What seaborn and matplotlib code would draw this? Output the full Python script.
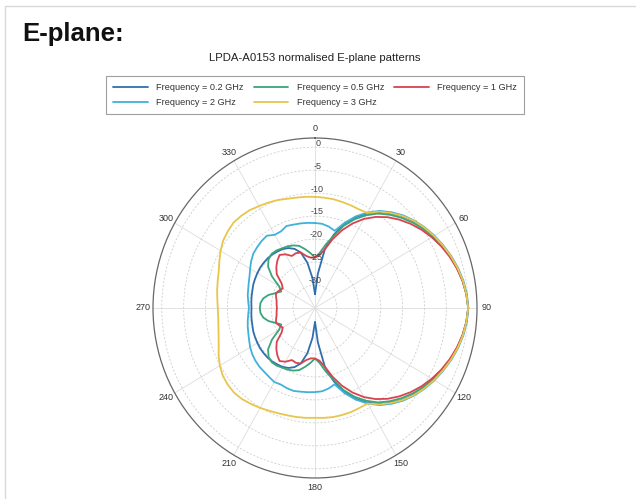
import numpy as np
import pandas as pd
import matplotlib
matplotlib.use("Agg")
import matplotlib.pyplot as plt
from matplotlib.lines import Line2D
import seaborn as sns

# ---- data (dB, normalised) at 5-degree steps, 0..360 ----
angles_deg = list(range(0, 361, 5))

f_02 = [-32, -27.5, -22, -18.5, -15.5, -13.2, -11.2, -9.5, -8.1, -6.8, -5.6, -4.6, -3.7, -2.8, -2.0, -1.3, -0.7, -0.3,
        0, -0.3, -0.7, -1.3, -2.0, -2.8, -3.7, -4.6, -5.6, -6.8, -8.1, -9.5, -11.2, -13.2, -15.5, -18.5, -22, -27.5,
        -32, -28.5, -25, -22.5, -21.3, -20.6, -20.2, -20.0, -19.8, -19.7, -19.7, -19.7, -19.8, -19.9, -20.0, -20.2, -20.3, -20.4,
        -20.5, -20.4, -20.3, -20.2, -20.0, -19.9, -19.8, -19.7, -19.7, -19.7, -19.8, -20.0, -20.2, -20.6, -21.3, -22.5, -25, -28.5,
        -32]

f_05 = [-24.0, -23.0, -21.0, -18.8, -16.0, -13.7, -11.7, -9.9, -8.5, -7.2, -6.0, -4.9, -3.9, -3.0, -2.1, -1.4, -0.8, -0.3,
        0, -0.3, -0.8, -1.4, -2.1, -3.0, -3.9, -4.9, -6.0, -7.2, -8.5, -9.9, -11.7, -13.7, -16.0, -18.8, -21.0, -23.0,
        -24.0, -23.0, -22.0, -21.0, -20.5, -20.2, -20.0, -19.7, -19.6, -20.0, -21.0, -23.0, -25.5, -26.5, -25.5, -24.0, -23.0, -22.5,
        -22.4, -22.5, -23.0, -24.0, -25.5, -26.5, -25.5, -23.0, -21.0, -20.0, -19.6, -19.7, -20.0, -20.2, -20.5, -21.0, -22.0, -23.0,
        -24.0]

f_1 = [-24.0, -23.5, -22.0, -19.5, -17.0, -14.7, -12.6, -10.8, -9.2, -7.8, -6.5, -5.3, -4.2, -3.2, -2.3, -1.5, -0.8, -0.3,
       0, -0.3, -0.8, -1.5, -2.3, -3.2, -4.2, -5.3, -6.5, -7.8, -9.2, -10.8, -12.6, -14.7, -17.0, -19.5, -22.0, -23.5,
       -24.0, -24.0, -23.5, -22.5, -22.3, -22.5, -21.5, -20.9, -21.6, -22.5, -23.6, -25.7, -26.5, -26.0, -25.5, -25.8, -26.1, -26.2,
       -26.3, -26.2, -26.1, -25.8, -25.5, -26.0, -26.5, -25.7, -23.6, -22.5, -21.6, -20.9, -21.5, -22.5, -22.3, -22.5, -23.5, -24.0,
       -24.0]

f_2 = [-16.5, -16.6, -17.0, -17.6, -15.3, -13.0, -11.0, -9.2, -7.8, -6.5, -5.4, -4.4, -3.5, -2.7, -1.9, -1.2, -0.6, -0.2,
       0, -0.2, -0.6, -1.2, -1.9, -2.7, -3.5, -4.4, -5.4, -6.5, -7.8, -9.2, -11.0, -13.0, -15.3, -17.8, -17.2, -16.8,
       -16.7, -16.6, -16.5, -16.3, -16.4, -16.6, -16.4, -16.7, -16.9, -17.0, -17.2, -17.5, -17.9, -18.4, -18.8, -19.1, -19.4, -19.7,
       -19.9, -19.7, -19.4, -19.2, -18.9, -18.5, -17.9, -17.2, -16.6, -16.3, -16.0, -15.8, -16.6, -16.6, -16.0, -16.2, -16.3, -16.4,
       -16.5]

f_3 = [-10.8, -10.9, -10.95, -11.1, -11.2, -11.3, -11.1, -9.4, -8.0, -6.7, -5.5, -4.5, -3.6, -2.8, -2.0, -1.3, -0.7, -0.3,
       0, -0.3, -0.7, -1.3, -2.0, -2.8, -3.6, -4.5, -5.5, -6.7, -8.0, -9.4, -11.0, -11.0, -10.9, -10.9, -10.9, -11.0,
       -11.1, -11.0, -10.9, -10.8, -10.6, -10.3, -9.9, -9.5, -9.1, -8.9, -9.0, -9.3, -9.9, -10.7, -11.6, -12.2, -12.6, -12.8,
       -12.8, -12.6, -12.3, -12.0, -11.6, -10.9, -10.1, -9.4, -9.0, -8.7, -8.8, -9.0, -9.4, -9.7, -10.0, -10.4, -10.6, -10.7,
       -10.8]

series_labels = ["Frequency = 0.2 GHz", "Frequency = 0.5 GHz", "Frequency = 1 GHz",
                 "Frequency = 2 GHz", "Frequency = 3 GHz"]
series_colors = ["#2f6fae", "#3aa57a", "#d8434f", "#40b2d9", "#e8c54c"]

r_ticks = [0, -5, -10, -15, -20, -25, -30]
theta_ticks = list(range(0, 360, 30))

title_text = "LPDA-A0153 normalised E-plane patterns"
heading_text = "E-plane:"

# ---- build long table ----
frames = []
for lab, vals in zip(series_labels, [f_02, f_05, f_1, f_2, f_3]):
    frames.append(pd.DataFrame({"theta": np.deg2rad(angles_deg), "gain": vals, "series": lab}))
df = pd.concat(frames, ignore_index=True)

sns.set_theme(style="white")
plt.rcParams["font.family"] = ["Liberation Sans", "DejaVu Sans"]

W, H = 636, 499
fig = plt.figure(figsize=(W / 100, H / 100), dpi=100)
fig.patch.set_facecolor("white")

# screenshot frame lines
fig.add_artist(Line2D([5 / W, 1], [1 - 6 / H, 1 - 6 / H], transform=fig.transFigure, color="#d9d9d9", lw=1))
fig.add_artist(Line2D([5 / W, 5 / W], [0, 1 - 6 / H], transform=fig.transFigure, color="#d9d9d9", lw=1))

fig.text(22 / W, 1 - 34 / H, heading_text, fontsize=18.5, fontweight="bold", ha="left", va="center", color="#111")
fig.text(315 / W, 1 - 58 / H, title_text, fontsize=8.2, ha="center", va="center", color="#222")

cx, cy, rx, ry = 315, 308, 162, 170
ax = fig.add_axes([(cx - rx) / W, 1 - (cy + ry) / H, 2 * rx / W, 2 * ry / H], projection="polar")
ax.set_aspect("auto")
ax.set_theta_zero_location("N")
ax.set_theta_direction(-1)

palette = dict(zip(series_labels, series_colors))
sns.lineplot(data=df, x="theta", y="gain", hue="series", palette=palette, sort=False, estimator=None,
             units="series", ax=ax, legend=False, linewidth=1.3)

ax.set_ylim(-35, 2)
ax.set_yticks([-35] + r_ticks[::-1])
ax.set_yticklabels([])
ax.set_xticks(np.deg2rad(theta_ticks))
ax.set_xticklabels([str(t) for t in theta_ticks])
ax.tick_params(axis="x", labelsize=6.5, colors="#333", pad=-6)
ax.set_xlabel("")
ax.set_ylabel("")
ax.xaxis.grid(True, color="#dddddd", lw=0.6, ls="-")
ax.yaxis.grid(True, color="#cfcfcf", lw=0.6, ls=(0, (2.5, 2)))
ax.spines["polar"].set_color("#666666")
ax.spines["polar"].set_linewidth(0.9)

for r in r_ticks:
    ax.text(np.deg2rad(1.3), r + 0.9, str(r), fontsize=6.5, color="#444", ha="center", va="center")

handles = [Line2D([], [], color=c, lw=1.3) for c in series_colors]
order = [0, 3, 1, 4, 2]
leg = fig.legend([handles[i] for i in order], [series_labels[i] for i in order],
                 loc="upper center", bbox_to_anchor=(315 / W, 1 - 71 / H), ncol=3, fontsize=6.6,
                 handlelength=3.8, handletextpad=0.9, columnspacing=1.1, borderpad=0.8, labelspacing=0.65,
                 frameon=True, fancybox=False, edgecolor="#888888")
leg.get_frame().set_linewidth(0.8)
for t in leg.get_texts():
    t.set_color("#333")

fig.savefig("out.png", dpi=100, facecolor="white")
